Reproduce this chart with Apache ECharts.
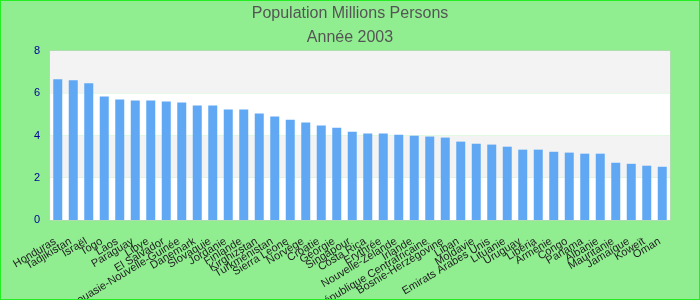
<!DOCTYPE html>
<html><head><meta charset="utf-8">
<script src="https://cdn.jsdelivr.net/npm/echarts@6/dist/echarts.min.js"></script>
<style>html,body{margin:0;padding:0;background:#90ee90;}#c{width:700px;height:300px;box-sizing:border-box;border:1px solid #22ee22;}</style>
</head><body><div id="c"></div>
<script>
const categories = ["Honduras","Tadjikistan","Israël","Togo","Laos","Paraguay","Libye","El Salvador","Papouasie-Nouvelle-Guinée","Danemark","Slovaquie","Jordanie","Finlande","Kirghizstan","Turkménistan","Sierra Leone","Norvège","Croatie","Géorgie","Singapour","Costa Rica","Erythrée","Nouvelle-Zélande","Irlande","République Centrafricaine","Bosnie-Herzégovine","Liban","Moldavie","Emirats Arabes Unis","Lituanie","Uruguay","Libéria","Arménie","Congo","Panama","Albanie","Mauritanie","Jamaïque","Koweït","Oman"];
const values = [6.66,6.61,6.47,5.85,5.71,5.66,5.66,5.61,5.56,5.42,5.42,5.23,5.23,5.04,4.90,4.75,4.61,4.47,4.37,4.18,4.09,4.09,4.04,3.99,3.95,3.90,3.71,3.61,3.57,3.47,3.33,3.33,3.23,3.19,3.14,3.14,2.71,2.66,2.57,2.52];
const yTicks = [0,2,4,6,8];
const chart = echarts.init(document.getElementById('c'));
chart.setOption({
  backgroundColor:'#90ee90',
  title:{text:'Population Millions Persons',subtext:'Année 2003',left:'center',top:0,itemGap:8,
    textStyle:{fontFamily:'Liberation Sans',fontSize:16,fontWeight:'normal',color:'#555'},
    subtextStyle:{fontFamily:'Liberation Sans',fontSize:16,color:'#555'}},
  grid:{left:49,right:29,top:50,bottom:79,show:true,borderColor:'#ccc',borderWidth:1,containLabel:false,outerBoundsMode:'none'},
  xAxis:{type:'category',data:categories,axisTick:{show:false},axisLine:{show:false},
    axisLabel:{interval:0,rotate:31,fontSize:11,color:'#222',fontFamily:'Liberation Sans',margin:19,padding:[0,3,0,0]}},
  yAxis:{type:'value',min:yTicks[0],max:yTicks[yTicks.length-1],interval:2,
    axisLine:{show:false},axisTick:{show:false},splitLine:{show:false},
    splitArea:{show:true,areaStyle:{color:['#ffffff','#f3f3f3']}},
    axisLabel:{color:'#000099',fontSize:11,fontFamily:'Liberation Sans',margin:10}},
  series:[{type:'bar',data:values,barWidth:9,itemStyle:{color:'#60a8f4'},animation:false}]
});
</script></body></html>
